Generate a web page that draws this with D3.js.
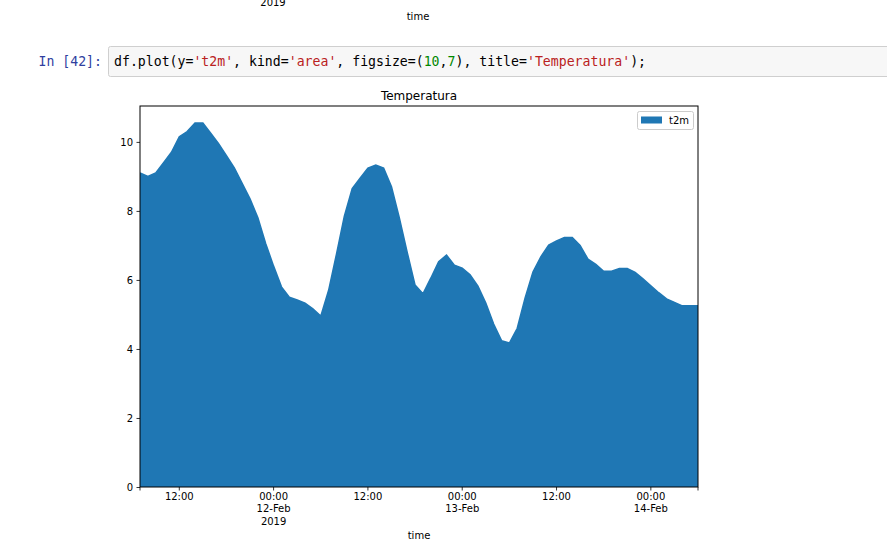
<!DOCTYPE html>
<html>
<head>
<meta charset="utf-8">
<script src="https://cdn.jsdelivr.net/npm/d3@7"></script>
<style>
  html, body { margin: 0; padding: 0; background: #fff; }
  svg { display: block; }
</style>
</head>
<body>
<svg id="chart" width="887" height="548"></svg>
<script>
// ---- data ----
const startTime = "2019-02-11T07:00:00Z";   // hourly series
const seriesName = "t2m";
const t2m = [
  9.1, 9.0, 9.1, 9.4, 9.7, 10.15, 10.3, 10.55, 10.55, 10.25,
  9.95, 9.6, 9.25, 8.8, 8.35, 7.8, 7.05, 6.4, 5.8, 5.5,
  5.42, 5.33, 5.16, 4.95, 5.7, 6.75, 7.85, 8.65, 8.95, 9.24,
  9.33, 9.24, 8.7, 7.8, 6.8, 5.85, 5.6, 6.05, 6.53, 6.72,
  6.43, 6.34, 6.15, 5.82, 5.33, 4.72, 4.24, 4.17, 4.6, 5.48,
  6.23, 6.67, 7.01, 7.13, 7.23, 7.23, 7.0, 6.6, 6.45, 6.25,
  6.25, 6.33, 6.33, 6.22, 6.03, 5.83, 5.63, 5.45, 5.35, 5.25,
  5.25, 5.25
];
const yTicks = [0, 2, 4, 6, 8, 10];
const yMax = 11.04;
const title = "Temperatura";
const xLabel = "time";

const t0 = new Date(startTime);
const data = t2m.map((v, i) => ({ t: new Date(t0.getTime() + i * 3600e3), v }));

// ---- layout ----
const svg = d3.select("#chart");
const L = 140, R = 698, T = 106, B = 487;
const mplFont = "DejaVu Sans, sans-serif";
const monoFont = "'DejaVu Sans Mono', 'Liberation Mono', monospace";

// ---- notebook remnants ----
svg.append("text").attr("x", 273).attr("y", 6).attr("text-anchor", "middle")
  .attr("font-family", mplFont).attr("font-size", 10).attr("fill", "#000").text("2019");
svg.append("text").attr("x", 418).attr("y", 20).attr("text-anchor", "middle")
  .attr("font-family", mplFont).attr("font-size", 10).attr("fill", "#000").text(xLabel);

svg.append("rect").attr("x", 108.5).attr("y", 46.5).attr("width", 800).attr("height", 30)
  .attr("rx", 2).attr("fill", "#f7f7f7").attr("stroke", "#cfcfcf");
svg.append("text").attr("x", 102).attr("y", 66).attr("text-anchor", "end")
  .attr("font-family", monoFont).attr("font-size", 13.2).attr("fill", "#303F9F").text("In [42]:");

const codeParts = [
  ["df.plot(y=", "#000"], ["'t2m'", "#BA2121"], [", kind=", "#000"], ["'area'", "#BA2121"],
  [", figsize=(", "#000"], ["10", "#008800"], [",", "#000"], ["7", "#008800"],
  ["), title=", "#000"], ["'Temperatura'", "#BA2121"], [");", "#000"]
];
const code = svg.append("text").attr("x", 114).attr("y", 66)
  .attr("font-family", monoFont).attr("font-size", 13.2).attr("xml:space", "preserve");
codeParts.forEach(([s, c]) => code.append("tspan").attr("fill", c).text(s));

// ---- scales ----
const x = d3.scaleUtc().domain([data[0].t, data[data.length - 1].t]).range([L, R]);
const y = d3.scaleLinear().domain([0, yMax]).range([B, T]);

// ---- area ----
svg.append("clipPath").attr("id", "clip").append("rect")
  .attr("x", L).attr("y", T).attr("width", R - L).attr("height", B - T);
const g = svg.append("g").attr("clip-path", "url(#clip)");
g.append("path").datum(data)
  .attr("fill", "#1f77b4")
  .attr("d", d3.area().x(d => x(d.t)).y0(y(0)).y1(d => y(d.v)));
g.append("path").datum(data)
  .attr("fill", "none").attr("stroke", "#1f77b4").attr("stroke-width", 1.5)
  .attr("d", d3.line().x(d => x(d.t)).y(d => y(d.v)));

// ---- y axis ----
const yAxis = svg.append("g").attr("transform", `translate(${L},0)`)
  .call(d3.axisLeft(y).tickValues(yTicks).tickSize(3.5).tickPadding(3.5).tickFormat(d3.format("d")));
yAxis.select(".domain").remove();
yAxis.selectAll("line").attr("stroke", "#000").attr("stroke-width", 0.8);
yAxis.selectAll("text").attr("font-family", mplFont).attr("font-size", 10).attr("fill", "#000");

// ---- x axis ----
const major = d3.utcHour.every(12).range(x.domain()[0], new Date(x.domain()[1].getTime() + 1));
const edgeTicks = x.domain();
const xg = svg.append("g").attr("transform", `translate(0,${B})`);
xg.selectAll("line.tick").data(major.concat(edgeTicks)).join("line")
  .attr("x1", d => x(d)).attr("x2", d => x(d)).attr("y1", 0).attr("y2", 3.5)
  .attr("stroke", "#000").attr("stroke-width", 0.8);
const fmtDay = d3.utcFormat("%d-%b");
let firstMidnight = true;
major.forEach(d => {
  const lines = [d3.utcFormat("%H:%M")(d)];
  if (d.getUTCHours() === 0) {
    lines.push(fmtDay(d));
    if (firstMidnight) { lines.push(d3.utcFormat("%Y")(d)); firstMidnight = false; }
  }
  const tx = xg.append("text").attr("x", x(d)).attr("y", 13).attr("text-anchor", "middle")
    .attr("font-family", mplFont).attr("font-size", 10).attr("fill", "#000");
  lines.forEach((s, i) => tx.append("tspan").attr("x", x(d)).attr("dy", i === 0 ? 0 : 12.3).text(s));
});

// ---- spines ----
svg.append("rect").attr("x", L).attr("y", T).attr("width", R - L).attr("height", B - T)
  .attr("fill", "none").attr("stroke", "#000").attr("stroke-width", 1);

// ---- labels ----
svg.append("text").attr("x", (L + R) / 2).attr("y", 100).attr("text-anchor", "middle")
  .attr("font-family", mplFont).attr("font-size", 12).attr("fill", "#000").text(title);
svg.append("text").attr("x", (L + R) / 2).attr("y", 539).attr("text-anchor", "middle")
  .attr("font-family", mplFont).attr("font-size", 10).attr("fill", "#000").text(xLabel);

// ---- legend ----
const lg = svg.append("g");
lg.append("rect").attr("x", 637.5).attr("y", 111.5).attr("width", 56).attr("height", 18).attr("rx", 2)
  .attr("fill", "#fff").attr("fill-opacity", 0.8).attr("stroke", "#cccccc");
lg.append("rect").attr("x", 641).attr("y", 116.5).attr("width", 21).attr("height", 7).attr("fill", "#1f77b4");
lg.append("text").attr("x", 669).attr("y", 124).attr("font-family", mplFont).attr("font-size", 10)
  .attr("fill", "#000").text(seriesName);
</script>
</body>
</html>
